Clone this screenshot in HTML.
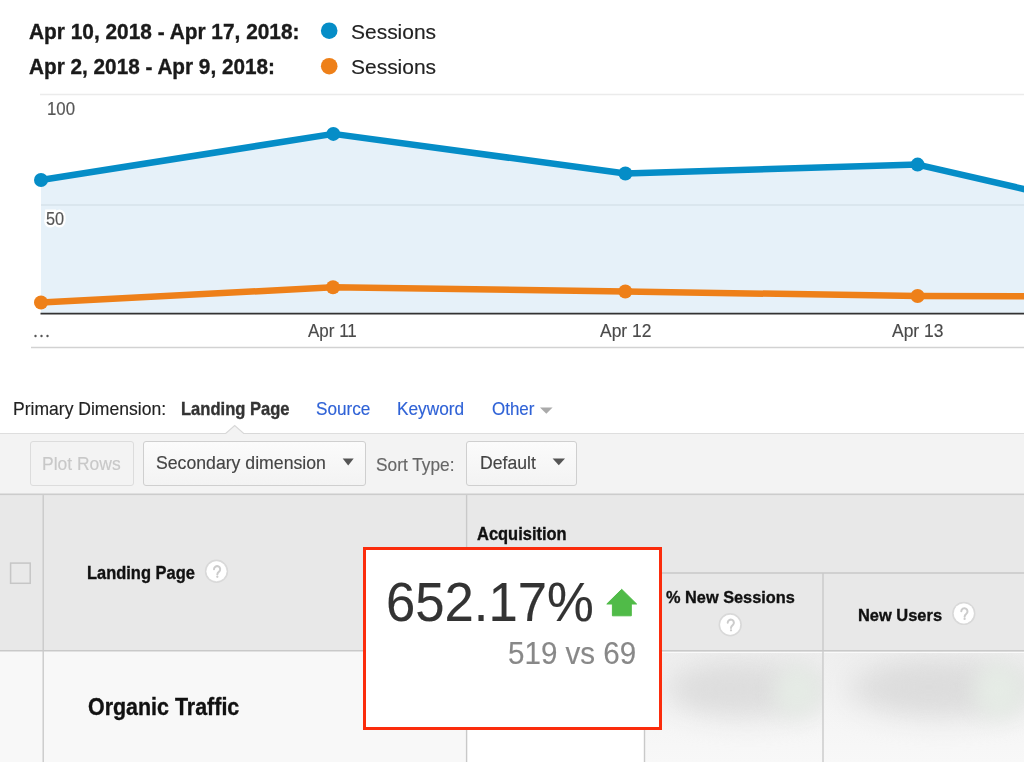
<!DOCTYPE html>
<html><head><meta charset="utf-8">
<style>
html,body{margin:0;padding:0;}
body{width:1024px;height:762px;overflow:hidden;position:relative;background:#fff;font-family:"Liberation Sans",sans-serif;}
.t{position:absolute;white-space:nowrap;line-height:1;transform-origin:0 0;}
.abs{position:absolute;}
</style></head><body>
<!-- chart -->
<svg class="abs" style="left:0;top:0" width="1024" height="360" viewBox="0 0 1024 360">
  <line x1="40" y1="94.5" x2="1024" y2="94.5" stroke="#ebebeb" stroke-width="1.5"/>
  <polygon points="41,180 333.3,133.9 625.4,173.5 917.6,164.6 1210,231.8 1210,313 41,313" fill="#e6f1f9"/>
  <line x1="41" y1="205" x2="1024" y2="205" stroke="#d6e2ea" stroke-width="1.5"/>
  <polyline points="41,180 333.3,133.9 625.4,173.5 917.6,164.6 1210,231.8" fill="none" stroke="#058dc7" stroke-width="6.5" stroke-linejoin="round"/>
  <g fill="#058dc7"><circle cx="41" cy="180" r="7"/><circle cx="333.3" cy="133.9" r="7"/><circle cx="625.4" cy="173.5" r="7"/><circle cx="917.6" cy="164.6" r="7"/></g>
  <polyline points="41,302.5 333,287.3 625.3,291.5 917.6,296 1210,296.4" fill="none" stroke="#ee8019" stroke-width="6.5" stroke-linejoin="round"/>
  <g fill="#ee8019"><circle cx="41" cy="302.5" r="7"/><circle cx="333" cy="287.3" r="7"/><circle cx="625.3" cy="291.5" r="7"/><circle cx="917.6" cy="296" r="7"/></g>
  <line x1="40.5" y1="313.6" x2="1024" y2="313.6" stroke="#333" stroke-width="1.7"/>
  <line x1="31" y1="347.6" x2="1024" y2="347.6" stroke="#d2d2d2" stroke-width="1.5"/>
  <g fill="#555"><circle cx="35.5" cy="336" r="1.2"/><circle cx="41.5" cy="336" r="1.2"/><circle cx="47.5" cy="336" r="1.2"/></g>
  <circle cx="329.2" cy="30.7" r="8.3" fill="#058dc7"/>
  <circle cx="329.2" cy="66.2" r="8.3" fill="#ee8019"/>
</svg>
<!-- toolbar -->
<div class="abs" style="left:0;top:433px;width:1024px;height:62px;background:#f3f3f3;border-top:1px solid #dedede;box-sizing:border-box;"></div>
<svg class="abs" style="left:210px;top:420px" width="50" height="20" viewBox="0 0 50 20">
  <polygon points="0,13.5 15.7,13.5 24.7,5.5 33.7,13.5 50,13.5 50,20 0,20" fill="#f3f3f3"/>
  <polyline points="0,13.5 15.7,13.5 24.7,5.5 33.7,13.5 50,13.5" fill="none" stroke="#d8d8d8" stroke-width="1.2"/>
</svg>
<div class="abs" style="left:30px;top:441px;width:104px;height:44.5px;box-sizing:border-box;border:1px solid #dcdcdc;border-radius:3px;background:#f3f3f3;"></div>
<div class="abs" style="left:143px;top:441px;width:222.7px;height:44.5px;box-sizing:border-box;border:1px solid #cfcfcf;border-radius:3px;background:linear-gradient(#fbfbfb,#f3f3f3);"></div>
<div class="abs" style="left:466px;top:441px;width:110.5px;height:44.5px;box-sizing:border-box;border:1px solid #cfcfcf;border-radius:3px;background:linear-gradient(#fbfbfb,#f3f3f3);"></div>
<svg class="abs" style="left:0;top:0" width="1024" height="762">
  <polygon points="342.7,458.4 353.7,458.4 348.2,465.5" fill="#555"/>
  <polygon points="552.6,458.4 565,458.4 558.8,465.3" fill="#555"/>
  <polygon points="540,407.5 552.6,407.5 546.3,413.7" fill="#aaa"/>
</svg>
<!-- table -->
<div class="abs" style="left:0;top:495.5px;width:1024px;height:155.5px;background:#e8e8e8;"></div>
<div class="abs" style="left:0;top:651px;width:1024px;height:111px;background:#f8f8f8;"></div>

<!-- blobs -->
<div class="abs" style="left:466.6px;top:651px;width:178px;height:111px;background:#fff;"></div>
<div class="abs" style="left:645px;top:651px;width:178px;height:111px;overflow:hidden;background:linear-gradient(#efefef,#f5f5f5 60%,#f8f8f8);">
  <div class="abs" style="left:18px;top:9px;width:170px;height:58px;border-radius:50%;background:#e0e0e0;filter:blur(14px);"></div>
  <div class="abs" style="left:40px;top:24px;width:90px;height:28px;border-radius:50%;background:#dddddd;filter:blur(10px);"></div>
  <div class="abs" style="left:130px;top:15px;width:45px;height:50px;border-radius:50%;background:#e5ebe5;filter:blur(10px);"></div>
</div>
<div class="abs" style="left:823.6px;top:651px;width:201px;height:111px;overflow:hidden;background:linear-gradient(#efefef,#f5f5f5 60%,#f8f8f8);">
  <div class="abs" style="left:22px;top:7px;width:195px;height:60px;border-radius:50%;background:#dfdfdf;filter:blur(14px);"></div>
  <div class="abs" style="left:55px;top:22px;width:100px;height:28px;border-radius:50%;background:#dcdcdc;filter:blur(10px);"></div>
  <div class="abs" style="left:150px;top:12px;width:50px;height:55px;border-radius:50%;background:#e5ebe5;filter:blur(10px);"></div>
</div>
<div class="abs" style="left:645px;top:651.6px;width:379px;height:1px;background:#fafafa;"></div>
<svg class="abs" style="left:0;top:0" width="1024" height="762">
  <g stroke="#c9c9c9" stroke-width="1.4">
    <line x1="43.2" y1="494" x2="43.2" y2="762"/>
    <line x1="466.6" y1="494" x2="466.6" y2="762"/>
    <line x1="644.5" y1="573" x2="644.5" y2="762"/>
    <line x1="823" y1="573" x2="823" y2="762"/>
    <line x1="466.6" y1="573" x2="1024" y2="573"/>
    <line x1="0" y1="650.8" x2="1024" y2="650.8"/>
    <line x1="0" y1="494.5" x2="1024" y2="494.5" stroke-width="2" stroke="#cccccc"/>
  </g>
  <rect x="10.6" y="563.1" width="19.6" height="20.2" fill="#e9e9e9" stroke="#c6c6c6" stroke-width="1.5"/>
</svg>
<!-- help icons -->
<svg class="abs" style="left:0;top:0" width="1024" height="762">
  <defs><filter id="bl" x="-50%" y="-50%" width="200%" height="200%"><feGaussianBlur stdDeviation="0.6"/></filter></defs>
  <g transform="translate(216.5,571.3)"><circle cx="0" cy="0" r="10.9" fill="none" stroke="#d9d9d9" stroke-width="1.6" filter="url(#bl)"/><circle cx="0" cy="0" r="10" fill="#fff"/>
  <path d="M-2.5,-2.1 a3.1,3.1 0 1 1 5,2.5 c-1.2,0.8 -1.7,1.4 -1.7,2.9" fill="none" stroke="#cccccc" stroke-width="2" stroke-linecap="round" filter="url(#bl)"/>
  <circle cx="0.8" cy="5.5" r="1.15" fill="#cccccc"/></g>
  <g transform="translate(730.2,624.8)"><circle cx="0" cy="0" r="10.9" fill="none" stroke="#d9d9d9" stroke-width="1.6" filter="url(#bl)"/><circle cx="0" cy="0" r="10" fill="#fff"/>
  <path d="M-2.5,-2.1 a3.1,3.1 0 1 1 5,2.5 c-1.2,0.8 -1.7,1.4 -1.7,2.9" fill="none" stroke="#cccccc" stroke-width="2" stroke-linecap="round" filter="url(#bl)"/>
  <circle cx="0.8" cy="5.5" r="1.15" fill="#cccccc"/></g>
  <g transform="translate(963.8,613.4)"><circle cx="0" cy="0" r="10.9" fill="none" stroke="#d9d9d9" stroke-width="1.6" filter="url(#bl)"/><circle cx="0" cy="0" r="10" fill="#fff"/>
  <path d="M-2.5,-2.1 a3.1,3.1 0 1 1 5,2.5 c-1.2,0.8 -1.7,1.4 -1.7,2.9" fill="none" stroke="#cccccc" stroke-width="2" stroke-linecap="round" filter="url(#bl)"/>
  <circle cx="0.8" cy="5.5" r="1.15" fill="#cccccc"/></g>
</svg>
<!-- red box -->
<div class="abs" style="left:363px;top:547px;width:298.6px;height:183.4px;box-sizing:border-box;border:3px solid #fb2c0c;background:#fff;"></div>
<svg class="abs" style="left:0;top:0" width="1024" height="762">
  <polygon points="621.7,589.3 636.6,604 631.3,604 631.3,615.8 612.4,615.8 612.4,604 606.8,604" fill="#50bb48" stroke="#50bb48" stroke-width="1" stroke-linejoin="round"/>
</svg>
<span class="t" style="left:29.40px;top:22.08px;font-size:21.4px;font-weight:bold;-webkit-text-stroke:0.35px #1a1a1a;color:#1a1a1a;transform:scaleX(0.9749);">Apr 10, 2018 - Apr 17, 2018:</span>
<span class="t" style="left:29.40px;top:57.48px;font-size:21.4px;font-weight:bold;-webkit-text-stroke:0.35px #1a1a1a;color:#1a1a1a;transform:scaleX(0.9699);">Apr 2, 2018 - Apr 9, 2018:</span>
<span class="t" style="left:351.40px;top:21.87px;font-size:20.0px;-webkit-text-stroke:0.15px #222;color:#222;transform:scaleX(1.0485);">Sessions</span>
<span class="t" style="left:351.40px;top:57.17px;font-size:20.0px;-webkit-text-stroke:0.15px #222;color:#222;transform:scaleX(1.0485);">Sessions</span>
<span class="t" style="left:46.50px;top:99.76px;font-size:18.0px;color:#fff;-webkit-text-stroke:5px #fff;filter:blur(0.7px);transform:scaleX(0.9326);">100</span>
<span class="t" style="left:46.50px;top:99.76px;font-size:18.0px;-webkit-text-stroke:0.15px #555;color:#555;transform:scaleX(0.9326);">100</span>
<span class="t" style="left:46.00px;top:210.06px;font-size:18.0px;color:#fff;-webkit-text-stroke:5px #fff;filter:blur(0.7px);transform:scaleX(0.9043);">50</span>
<span class="t" style="left:46.00px;top:210.06px;font-size:18.0px;-webkit-text-stroke:0.15px #555;color:#555;transform:scaleX(0.9043);">50</span>
<span class="t" style="left:307.50px;top:322.06px;font-size:18.0px;-webkit-text-stroke:0.15px #4a4a4a;color:#4a4a4a;transform:scaleX(0.9440);">Apr 11</span>
<span class="t" style="left:599.60px;top:322.06px;font-size:18.0px;-webkit-text-stroke:0.15px #4a4a4a;color:#4a4a4a;transform:scaleX(0.9693);">Apr 12</span>
<span class="t" style="left:891.70px;top:322.06px;font-size:18.0px;-webkit-text-stroke:0.15px #4a4a4a;color:#4a4a4a;transform:scaleX(0.9693);">Apr 13</span>
<span class="t" style="left:13.30px;top:400.64px;font-size:17.9px;-webkit-text-stroke:0.15px #222;color:#222;transform:scaleX(0.9804);">Primary Dimension:</span>
<span class="t" style="left:181.40px;top:400.54px;font-size:17.9px;font-weight:bold;-webkit-text-stroke:0.35px #333;color:#333;transform:scaleX(0.9254);">Landing Page</span>
<span class="t" style="left:315.80px;top:400.84px;font-size:17.9px;-webkit-text-stroke:0.15px #2f62d6;color:#2f62d6;transform:scaleX(0.9593);">Source</span>
<span class="t" style="left:397.40px;top:400.84px;font-size:17.9px;-webkit-text-stroke:0.15px #2f62d6;color:#2f62d6;transform:scaleX(0.9648);">Keyword</span>
<span class="t" style="left:491.60px;top:400.84px;font-size:17.9px;-webkit-text-stroke:0.15px #2f62d6;color:#2f62d6;transform:scaleX(0.9471);">Other</span>
<span class="t" style="left:41.90px;top:455.84px;font-size:17.9px;-webkit-text-stroke:0.15px #c8c8c8;color:#c8c8c8;transform:scaleX(0.9768);">Plot Rows</span>
<span class="t" style="left:155.60px;top:453.69px;font-size:18.2px;-webkit-text-stroke:0.15px #444;color:#444;transform:scaleX(0.9713);">Secondary dimension</span>
<span class="t" style="left:375.90px;top:455.79px;font-size:18.2px;-webkit-text-stroke:0.15px #666;color:#666;transform:scaleX(0.9500);">Sort Type:</span>
<span class="t" style="left:479.50px;top:454.09px;font-size:18.2px;-webkit-text-stroke:0.15px #444;color:#444;transform:scaleX(0.9678);">Default</span>
<span class="t" style="left:86.70px;top:565.01px;font-size:17.7px;font-weight:bold;-webkit-text-stroke:0.35px #111;color:#111;transform:scaleX(0.9298);">Landing Page</span>
<span class="t" style="left:477.30px;top:525.51px;font-size:17.7px;font-weight:bold;-webkit-text-stroke:0.35px #111;color:#111;transform:scaleX(0.9309);">Acquisition</span>
<span class="t" style="left:666.40px;top:589.04px;font-size:17.2px;font-weight:bold;-webkit-text-stroke:0.35px #111;color:#111;transform:scaleX(0.9496);">% New Sessions</span>
<span class="t" style="left:857.80px;top:606.67px;font-size:17.4px;font-weight:bold;-webkit-text-stroke:0.35px #111;color:#111;transform:scaleX(0.9451);">New Users</span>
<span class="t" style="left:87.90px;top:696.17px;font-size:23.3px;font-weight:bold;-webkit-text-stroke:0.35px #111;color:#111;transform:scaleX(0.9200);">Organic Traffic</span>
<span class="t" style="left:385.60px;top:574.62px;font-size:55.6px;-webkit-text-stroke:0.15px #333;color:#333;transform:scaleX(0.9462);">652.17%</span>
<span class="t" style="left:507.60px;top:638.11px;font-size:31.4px;-webkit-text-stroke:0.15px #888;color:#888;transform:scaleX(0.9423);">519 vs 69</span>
</body></html>
